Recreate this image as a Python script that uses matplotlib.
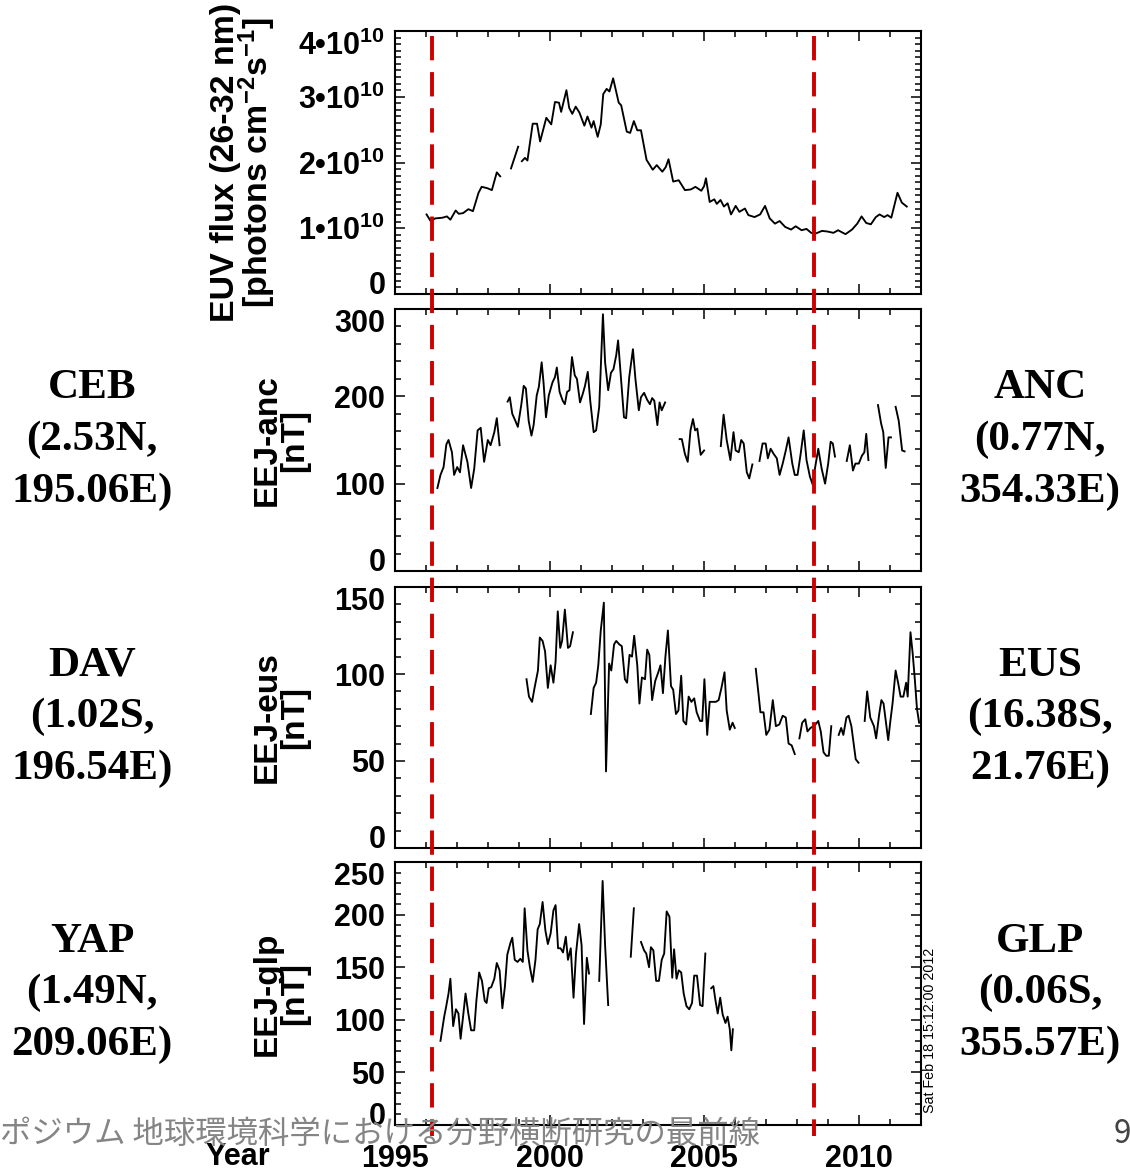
import numpy as np
import matplotlib
matplotlib.use("Agg")
import matplotlib.pyplot as plt
import matplotlib.transforms as mtransforms
from matplotlib.ticker import MultipleLocator, FixedLocator, FixedFormatter

nan = np.nan

# EUV flux, units of 1e10 photons cm-2 s-1
euv_year = [1996.02, 1996.15, 1996.30, 1996.53, 1996.68, 1996.79, 1996.96, 1997.06, 1997.20, 1997.37,
            1997.52, 1997.70, 1997.80, 1997.98, 1998.13, 1998.29, 1998.40, 1998.55, 1998.75, 1998.98,
            1999.04, 1999.10, 1999.20, 1999.28, 1999.45, 1999.59, 1999.69, 1999.89, 2000.05, 2000.17,
            2000.30, 2000.37, 2000.54, 2000.63, 2000.73, 2000.84, 2000.96, 2001.12, 2001.22, 2001.35,
            2001.42, 2001.55, 2001.65, 2001.73, 2001.84, 2001.93, 2002.05, 2002.23, 2002.31, 2002.49,
            2002.60, 2002.72, 2002.83, 2002.95, 2003.13, 2003.33, 2003.46, 2003.64, 2003.75, 2003.84,
            2003.99, 2004.17, 2004.37, 2004.56, 2004.71, 2004.90, 2004.99, 2005.05, 2005.17, 2005.32,
            2005.40, 2005.52, 2005.63, 2005.75, 2005.86, 2006.01, 2006.13, 2006.31, 2006.42, 2006.62,
            2006.80, 2006.96, 2007.11, 2007.28, 2007.43, 2007.61, 2007.80, 2007.95, 2008.14, 2008.30,
            2008.45, 2008.60, 2008.80, 2008.98, 2009.17, 2009.32, 2009.56, 2009.77, 2009.94, 2010.08,
            2010.23, 2010.38, 2010.54, 2010.66, 2010.81, 2010.92, 2011.04, 2011.24, 2011.38, 2011.54]
euv_flux = [1.21, 1.11, 1.15, 1.16, 1.18, 1.13, 1.27, 1.22, 1.23, 1.29,
            1.26, 1.54, 1.63, 1.61, 1.58, 1.85, 1.79, nan, 1.91, 2.24,
            nan, 2.02, 2.07, 2.03, 2.59, 2.59, 2.32, 2.68, 2.58, 2.92,
            2.91, 2.77, 3.10, 2.83, 2.74, 2.85, 2.76, 2.56, 2.70, 2.53,
            2.63, 2.39, 2.58, 3.04, 3.12, 3.08, 3.28, 2.91, 2.87, 2.47,
            2.45, 2.63, 2.49, 2.49, 2.04, 1.89, 1.96, 1.86, 1.93, 2.05,
            1.71, 1.73, 1.58, 1.59, 1.63, 1.57, 1.64, 1.76, 1.40, 1.44,
            1.37, 1.43, 1.33, 1.38, 1.21, 1.34, 1.25, 1.30, 1.20, 1.17,
            1.21, 1.34, 1.15, 1.07, 1.11, 1.02, 0.98, 1.03, 0.97, 0.99,
            0.93, 0.92, 0.96, 0.95, 0.93, 0.97, 0.91, 0.98, 1.07, 1.18,
            1.08, 1.06, 1.17, 1.21, 1.17, 1.20, 1.16, 1.54, 1.39, 1.33]

# EEJ-anc [nT]
anc_year = [1996.37, 1996.47, 1996.57, 1996.66, 1996.73, 1996.84, 1996.91, 1997.01, 1997.10, 1997.20,
            1997.34, 1997.46, 1997.56, 1997.67, 1997.77, 1997.88, 1998.00, 1998.09, 1998.21, 1998.29,
            1998.38, 1998.50, 1998.64, 1998.71, 1998.79, 1998.89, 1998.97, 1999.08, 1999.16, 1999.23,
            1999.32, 1999.41, 1999.48, 1999.58, 1999.65, 1999.74, 1999.80, 1999.88, 1999.97, 2000.09,
            2000.17, 2000.23, 2000.32, 2000.42, 2000.49, 2000.56, 2000.64, 2000.72, 2000.81, 2000.88,
            2000.98, 2001.07, 2001.14, 2001.23, 2001.31, 2001.42, 2001.50, 2001.60, 2001.72, 2001.79,
            2001.89, 2001.98, 2002.06, 2002.15, 2002.21, 2002.30, 2002.40, 2002.47, 2002.57, 2002.69,
            2002.77, 2002.88, 2002.95, 2003.05, 2003.15, 2003.24, 2003.31, 2003.38, 2003.48, 2003.55,
            2003.62, 2003.73, 2003.90, 2004.20, 2004.27, 2004.37, 2004.46, 2004.55, 2004.63, 2004.70,
            2004.77, 2004.88, 2004.99, 2005.20, 2005.53, 2005.62, 2005.72, 2005.84, 2005.94, 2006.01,
            2006.11, 2006.19, 2006.27, 2006.37, 2006.45, 2006.55, 2006.65, 2006.78, 2006.88, 2006.98,
            2007.05, 2007.14, 2007.24, 2007.34, 2007.43, 2007.53, 2007.63, 2007.72, 2007.84, 2007.92,
            2008.01, 2008.11, 2008.21, 2008.30, 2008.41, 2008.50, 2008.58, 2008.68, 2008.79, 2008.90,
            2009.00, 2009.08, 2009.15, 2009.22, 2009.40, 2009.60, 2009.70, 2009.80, 2009.88, 2009.99,
            2010.09, 2010.17, 2010.23, 2010.30, 2010.45, 2010.61, 2010.71, 2010.78, 2010.86, 2010.95,
            2011.03, 2011.10, 2011.18, 2011.28, 2011.39, 2011.47]
anc_eej = [95, 110, 119, 145, 150, 136, 110, 119, 113, 144,
           125, 95, 117, 161, 164, 125, 150, 144, 159, 175,
           144, nan, 194, 199, 180, 172, 165, 190, 212, 209,
           172, 155, 167, 201, 211, 239, 216, 176, 201, 216,
           222, 233, 205, 195, 191, 205, 207, 245, 224, 220,
           193, 203, 212, 228, 195, 159, 161, 188, 294, 239,
           207, 227, 231, 247, 264, 222, 176, 175, 222, 254,
           220, 184, 199, 204, 196, 191, 198, 195, 167, 193,
           184, 193, nan, 151, 151, 134, 125, 161, 174, 161,
           163, 133, 138, nan, 143, 179, 150, 127, 159, 138,
           136, 150, 146, 113, 106, 122, nan, 126, 146, 146,
           129, 140, 134, 129, 110, 123, 138, 153, 123, 110,
           110, 134, 161, 127, 108, 99, 119, 140, 117, 100,
           123, 148, 146, 131, nan, 126, 144, 115, 123, 123,
           132, 136, 157, 127, nan, 190, 169, 159, 118, 153,
           153, nan, 188, 172, 138, 137]

# EEJ-eus [nT]
eus_year = [1999.25, 1999.33, 1999.43, 1999.51, 1999.62, 1999.68, 1999.77, 1999.85, 1999.94, 2000.03,
            2000.12, 2000.19, 2000.26, 2000.34, 2000.40, 2000.49, 2000.59, 2000.66, 2000.75, 2001.00,
            2001.33, 2001.42, 2001.50, 2001.57, 2001.65, 2001.75, 2001.82, 2001.92, 2001.99, 2002.08,
            2002.15, 2002.25, 2002.33, 2002.43, 2002.50, 2002.58, 2002.66, 2002.73, 2002.83, 2002.90,
            2002.98, 2003.08, 2003.15, 2003.22, 2003.31, 2003.41, 2003.51, 2003.58, 2003.66, 2003.74,
            2003.82, 2003.92, 2003.99, 2004.08, 2004.16, 2004.25, 2004.32, 2004.41, 2004.49, 2004.58,
            2004.67, 2004.75, 2004.86, 2004.93, 2005.00, 2005.09, 2005.17, 2005.29, 2005.37, 2005.46,
            2005.55, 2005.65, 2005.72, 2005.82, 2005.91, 2005.98, 2006.30, 2006.66, 2006.74, 2006.81,
            2006.91, 2007.00, 2007.10, 2007.21, 2007.31, 2007.42, 2007.53, 2007.63, 2007.72, 2007.82,
            2007.92, 2008.00, 2008.07, 2008.16, 2008.26, 2008.33, 2008.43, 2008.52, 2008.59, 2008.68,
            2008.76, 2008.85, 2008.94, 2009.02, 2009.10, 2009.22, 2009.34, 2009.42, 2009.49, 2009.59,
            2009.66, 2009.75, 2009.89, 2009.98, 2010.08, 2010.18, 2010.26, 2010.36, 2010.48, 2010.55,
            2010.65, 2010.72, 2010.79, 2010.94, 2011.01, 2011.08, 2011.18, 2011.27, 2011.34, 2011.43,
            2011.52, 2011.57, 2011.66, 2011.73, 2011.80, 2011.87, 2011.94]
eus_eej = [97, 87, 84, 92, 102, 121, 119, 113, 92, 105,
           95, 107, 136, 115, 119, 137, 115, 116, 124, nan,
           77, 92, 95, 105, 125, 141, 44, 106, 102, 117,
           119, 117, 116, 97, 95, 111, 110, 122, 105, 83,
           98, 97, 114, 111, 85, 96, 101, 105, 89, 110,
           125, 93, 91, 77, 79, 99, 73, 71, 87, 84,
           86, 78, 73, 73, 97, 65, 84, 84, 84, 85,
           92, 101, 79, 68, 72, 69, nan, 103, 90, 78,
           78, 65, 68, 85, 70, 71, 76, 75, 60, 59,
           54, nan, 63, 72, 74, 67, 69, 70, 71, 73,
           67, 55, 53, 53, 70, nan, 65, 69, 65, 75,
           76, 70, 51, 49, nan, 73, 90, 75, 70, 63,
           77, 85, 83, 62, 73, 83, 102, 94, 87, 87,
           95, 87, 124, 112, 97, 80, 72]

# EEJ-glp [nT]
glp_year = [1996.47, 1996.59, 1996.65, 1996.73, 1996.79, 1996.88, 1996.97, 1997.05, 1997.12, 1997.20,
            1997.28, 1997.37, 1997.46, 1997.56, 1997.63, 1997.72, 1997.81, 1997.90, 1997.96, 1998.03,
            1998.11, 1998.21, 1998.29, 1998.38, 1998.47, 1998.55, 1998.63, 1998.73, 1998.79, 1998.87,
            1998.96, 1999.05, 1999.13, 1999.19, 1999.28, 1999.36, 1999.45, 1999.54, 1999.61, 1999.68,
            1999.77, 1999.86, 1999.94, 2000.03, 2000.12, 2000.19, 2000.27, 2000.35, 2000.43, 2000.52,
            2000.59, 2000.68, 2000.77, 2000.85, 2000.95, 2001.03, 2001.11, 2001.20, 2001.27, 2001.45,
            2001.60, 2001.71, 2001.79, 2001.89, 2002.30, 2002.62, 2002.72, 2002.85, 2002.95, 2003.05,
            2003.12, 2003.21, 2003.27, 2003.35, 2003.44, 2003.53, 2003.62, 2003.70, 2003.78, 2003.87,
            2003.96, 2004.02, 2004.10, 2004.17, 2004.25, 2004.33, 2004.42, 2004.51, 2004.60, 2004.67,
            2004.76, 2004.86, 2004.94, 2005.03, 2005.12, 2005.22, 2005.29, 2005.36, 2005.43, 2005.51,
            2005.59, 2005.68, 2005.75, 2005.82, 2005.87, 2005.92]
glp_eej = [80, 103, 112, 125, 139, 94, 110, 106, 82, 103,
           125, 106, 90, 90, 118, 145, 137, 118, 116, 130,
           131, 139, 154, 147, 111, 131, 162, 173, 178, 157,
           155, 158, 155, 206, 166, 150, 136, 157, 186, 191,
           212, 185, 172, 182, 204, 209, 168, 168, 164, 179,
           157, 168, 121, 163, 191, 171, 96, 159, 144, nan,
           137, 232, 171, 114, nan, 160, 206, nan, 174, 166,
           163, 150, 169, 166, 137, 137, 157, 163, 203, 198,
           140, 167, 139, 147, 145, 125, 113, 110, 116, 142,
           142, 114, 113, 163, nan, 130, 132, 118, 106, 121,
           105, 97, 103, 91, 71, 91]

solar_min_years = [1996.2, 2008.55]

stations_left = ["CEB\n(2.53N,\n195.06E)", "DAV\n(1.02S,\n196.54E)", "YAP\n(1.49N,\n209.06E)"]
stations_right = ["ANC\n(0.77N,\n354.33E)", "EUS\n(16.38S,\n21.76E)", "GLP\n(0.06S,\n355.57E)"]

W, H = 1130, 1174

plt.rcParams["font.family"] = ["Liberation Sans", "DejaVu Sans"]
plt.rcParams["font.weight"] = "bold"
plt.rcParams["mathtext.fontset"] = "custom"
plt.rcParams["mathtext.rm"] = "Liberation Sans:bold"
plt.rcParams["mathtext.it"] = "Liberation Sans:bold"
plt.rcParams["mathtext.bf"] = "Liberation Sans:bold"
plt.rcParams["lines.scale_dashes"] = False


def fx(x):
    return x / W


def fy(y):
    return 1 - y / H


fig = plt.figure(figsize=(W / 100, H / 100), dpi=100)

# panel boxes in pixels: (top, bottom)
boxes = [(31, 294), (309, 571), (587, 848), (862, 1125)]
left, right = 395, 921
axes = []
for top, bottom in boxes:
    ax = fig.add_axes([fx(left), fy(bottom), (right - left) / W, (bottom - top) / H])
    axes.append(ax)

series = [
    (euv_year, np.array(euv_flux) * 1e10, 4e10, 1e10, 1e9),
    (anc_year, anc_eej, 300, 100, 20),
    (eus_year, eus_eej, 150, 50, 10),
    (glp_year, glp_eej, 250, 50, 10),
]

for ax, (yrs, vals, ymax, major, minor) in zip(axes, series):
    ax.plot(yrs, np.array(vals, dtype=float), color="black", lw=1.35)
    ax.set_xlim(1995, 2012)
    ax.set_ylim(0, ymax)
    ax.xaxis.set_major_locator(MultipleLocator(5))
    ax.xaxis.set_minor_locator(MultipleLocator(1))
    ax.yaxis.set_major_locator(FixedLocator(np.arange(0, ymax + major / 2, major)))
    ax.yaxis.set_minor_locator(MultipleLocator(minor))
    ax.tick_params(which="both", direction="in", top=True, right=True, width=1.1, labelsize=22, pad=7)
    ax.tick_params(which="major", length=7)
    ax.tick_params(which="minor", length=4)
    ax.tick_params(axis="x", pad=14)
    for s in ax.spines.values():
        s.set_linewidth(1.5)
    if ax is not axes[-1]:
        ax.tick_params(axis="x", labelbottom=False)

# EUV tick labels
axes[0].yaxis.set_major_formatter(FixedFormatter(
    ["0"] + [f"{i}\u202210$^{{10}}$" for i in range(1, 5)]))

# end labels pushed inside the box like the original
for ax in axes:
    ticks = ax.yaxis.get_major_ticks()
    ticks[0].label1.set_va("baseline")
    ticks[-1].label1.set_va("top")

# y labels
ylabels = [
    "EUV flux (26-32 nm)\n[photons cm$^{-2}$s$^{-1}$]",
    "EEJ-anc\n[nT]",
    "EEJ-eus\n[nT]",
    "EEJ-glp\n[nT]",
]
label_x = [244, 281, 281, 281]
label_size = [24.5, 24, 24, 24]
for (top, bottom), txt, lx, sz in zip(boxes, ylabels, label_x, label_size):
    fig.text(fx(lx), fy((top + bottom) / 2), txt, rotation=90, ha="center", va="center",
             multialignment="center", fontsize=sz, linespacing=0.88)

# stations
for (top, bottom), ls, rs in zip(boxes[1:], stations_left, stations_right):
    yc = fy((top + bottom) / 2)
    fig.text(fx(92), yc, ls, ha="center", va="center", fontsize=31,
             family="Liberation Serif", linespacing=1.45)
    fig.text(fx(1040), yc, rs, ha="center", va="center", fontsize=31,
             family="Liberation Serif", linespacing=1.45)

# solar minimum markers across all panels
blend = mtransforms.blended_transform_factory(axes[-1].transData, fig.transFigure)
for yr in solar_min_years:
    axes[-1].plot([yr, yr], [fy(36), fy(1136)], transform=blend, clip_on=False,
                  color="#cc0000", lw=2.8, dashes=(17.5, 8.5), zorder=5)

fig.text(fx(238), fy(1157), "Year", ha="center", va="center", fontsize=22)
fig.text(fx(923), fy(1113), "Sat Feb 18 15:12:00 2012", rotation=90, ha="left", va="bottom",
         fontsize=10.3, fontweight="normal")

fig.text(0, fy(1134), "ポジウム 地球環境科学における分野横断研究の最前線", ha="left", va="center",
         fontsize=22.6, fontweight="normal", color="#858585",
         family=["Noto Sans CJK JP", "DejaVu Sans"])
fig.text(fx(1114), fy(1134), "9", ha="left", va="center", fontsize=22.6,
         fontweight="normal", color="#444444", family=["Noto Sans CJK JP", "DejaVu Sans"])

fig.savefig("out.png", dpi=100)
